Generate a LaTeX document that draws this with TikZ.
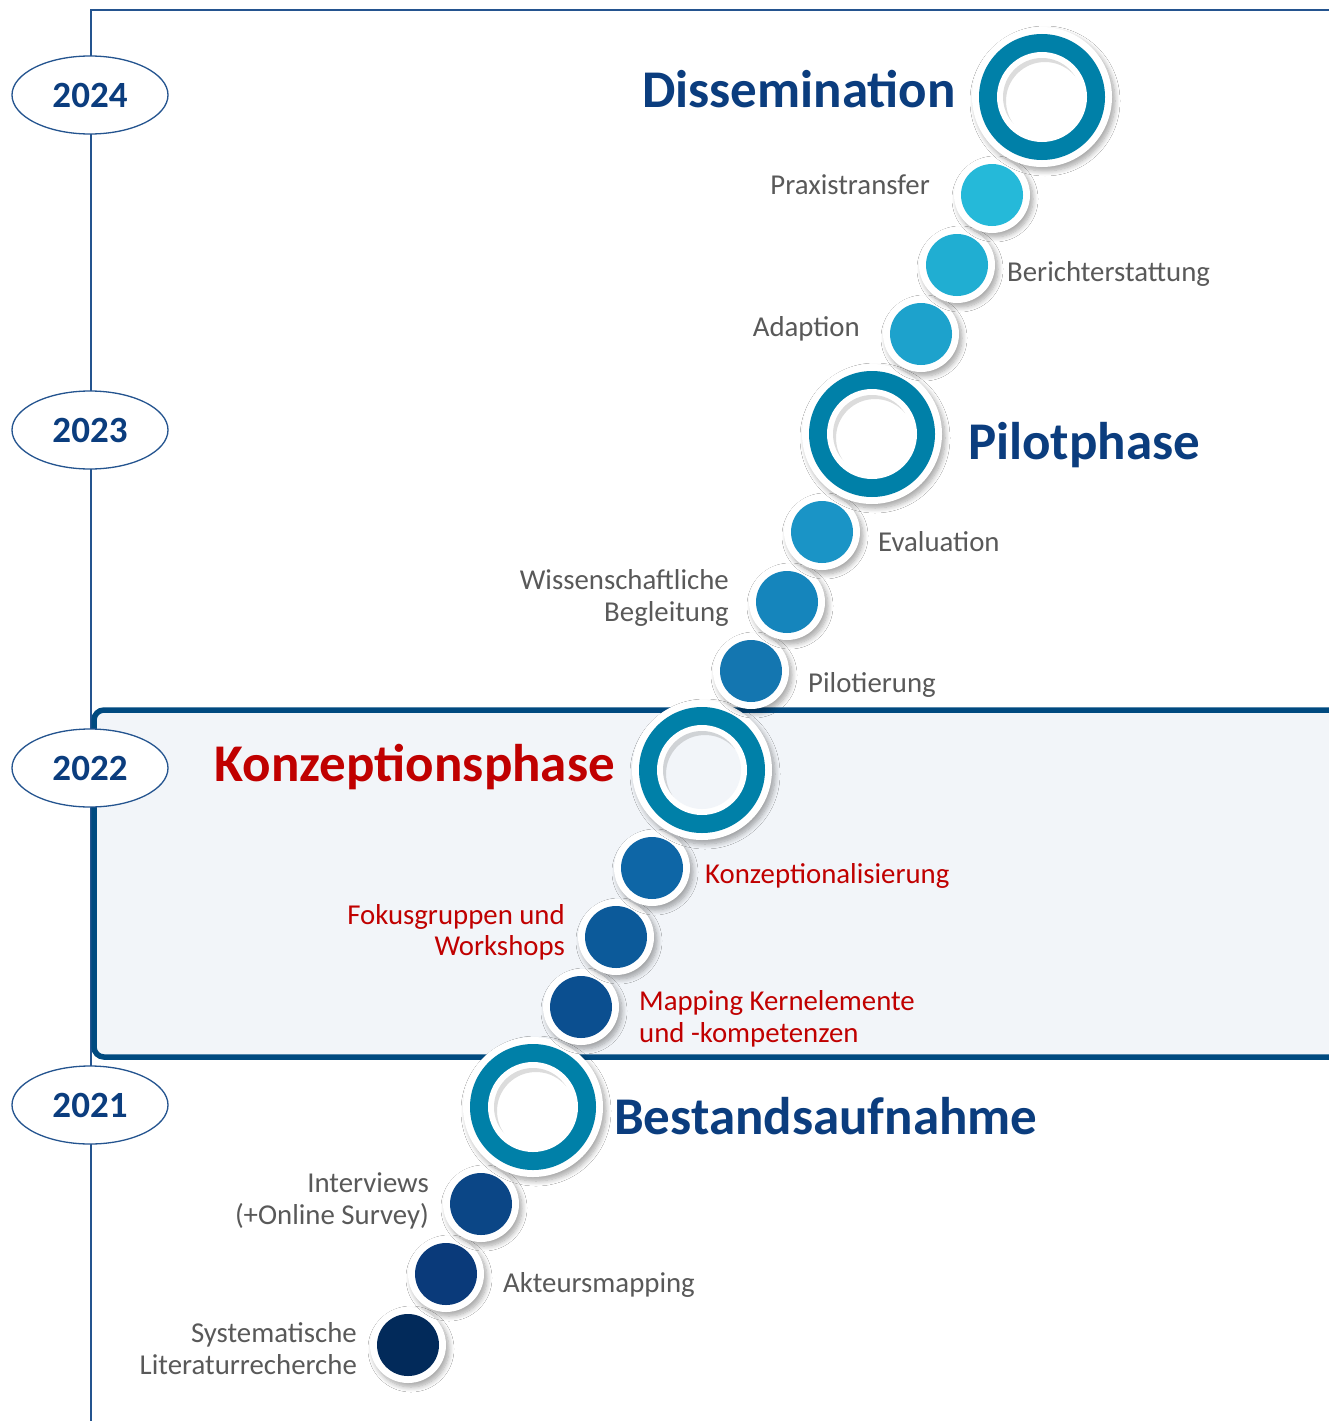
\documentclass[tikz,border=0pt]{standalone}
\usepackage{fontspec}
\setmainfont{Carlito}
\usetikzlibrary{shapes.geometric,shadows.blur}
\definecolor{tlc}{HTML}{24548F}
\definecolor{boxc}{HTML}{004A80}
\definecolor{boxbg}{HTML}{F2F5F9}
\definecolor{ringc}{HTML}{0080A8}
\definecolor{titlec}{HTML}{0B3D7E}
\definecolor{redc}{HTML}{C00000}
\definecolor{grayc}{HTML}{595959}
\definecolor{d1}{HTML}{022A5A}
\definecolor{d2}{HTML}{0A3A7A}
\definecolor{d3}{HTML}{0B4686}
\definecolor{d4}{HTML}{0B4F90}
\definecolor{d5}{HTML}{0C5A9A}
\definecolor{d6}{HTML}{0E66A6}
\definecolor{d7}{HTML}{1476B0}
\definecolor{d8}{HTML}{1585BC}
\definecolor{d9}{HTML}{1A94C6}
\definecolor{d10}{HTML}{1DA2CC}
\definecolor{d11}{HTML}{20AED2}
\definecolor{d12}{HTML}{25B9D9}
\tikzset{
  shad/.style={blur shadow={shadow xshift=3pt,shadow yshift=-4pt,shadow blur radius=5pt,shadow opacity=35,shadow blur steps=8}},
  yearnode/.style={ellipse,draw=tlc,line width=1.3pt,fill=white,minimum width=156pt,minimum height=78pt,inner sep=0pt,
     text=titlec,font=\bfseries\fontsize{37}{40}\selectfont},
  lbl/.style={inner sep=0pt,text=grayc,font=\fontsize{28.8}{32}\selectfont},
  rlbl/.style={inner sep=0pt,text=redc,font=\fontsize{28.8}{32}\selectfont},
  ttl/.style={inner sep=0pt,text=titlec,font=\bfseries\fontsize{53}{60}\selectfont},
}
\newcommand\mydot[3]{%
  \node[circle,fill=white,minimum size=76pt,inner sep=0pt,shad] (#1) at (#2) {};
  \fill[#3] (#1.center) circle[radius=31pt];
}
\newcommand\myring[3]{%
  \node[circle,fill=white,minimum size=140pt,inner sep=0pt,shad] (#1) at (#2) {};
  \fill[ringc] (#1.center) circle[radius=63pt];
  \fill[white] (#1.center) circle[radius=45pt];
  \fill[#3] (#1.center) circle[radius=39pt];
  \begin{scope}
    \clip (#1.center) circle[radius=39pt];
    \draw[black,opacity=0.04,line width=14pt] ([shift={(3pt,-4pt)}]#1.center) circle[radius=46pt];
    \draw[black,opacity=0.05,line width=10pt] ([shift={(3pt,-4pt)}]#1.center) circle[radius=44pt];
    \draw[black,opacity=0.05,line width=6pt] ([shift={(3pt,-4pt)}]#1.center) circle[radius=42pt];
  \end{scope}
}
\begin{document}
\begin{tikzpicture}[x=1pt,y=-1pt]
\useasboundingbox (0,0) rectangle (1329,1421);
\fill[white] (0,0) rectangle (1329,1421);
% timeline
\coordinate (tlb) at (91,1430);
\coordinate (tlc) at (91,10);
\coordinate (tlr) at (1340,10);
\draw[tlc,line width=2pt] (tlb) -- (tlc) -- (tlr);
% highlight box
\draw[boxc,fill=boxbg,line width=5.5pt,rounded corners=10pt] (94,710) rectangle (1345,1057);
% years
\node[yearnode] (y2024) at (90,95) {2024};
\node[yearnode] (y2023) at (90,430) {2023};
\node[yearnode] (y2022) at (90,768) {2022};
\node[yearnode] (y2021) at (90,1105) {2021};
% circles
\mydot{c1}{408,1345}{d1}
\mydot{c2}{446,1274}{d2}
\mydot{c3}{481,1204}{d3}
\myring{r1}{533,1107}{white}
\mydot{c4}{581,1007}{d4}
\mydot{c5}{616,937}{d5}
\mydot{c6}{652,868}{d6}
\myring{r2}{702,770}{boxbg}
\mydot{c7}{751,671}{d7}
\mydot{c8}{787,602}{d8}
\mydot{c9}{822,532}{d9}
\myring{r3}{872,434}{white}
\mydot{c10}{921,334}{d10}
\mydot{c11}{957,265}{d11}
\mydot{c12}{992,195}{d12}
\myring{r4}{1042,97}{white}
% titles
\node[ttl,anchor=base east] (tdis) at (956,107) {Dissemination};
\node[ttl,anchor=base west] (tpil) at (968,459) {Pilotphase};
\node[ttl,anchor=base east,text=redc] (tkon) at (615,781) {Konzeptionsphase};
\node[ttl,anchor=base west] (tbes) at (614,1134) {Bestandsaufnahme};
% labels
\node[lbl,anchor=base east] (l12) at (930,194) {Praxistransfer};
\node[lbl,anchor=base west] (l11) at (1007,281) {Berichterstattung};
\node[lbl,anchor=base east] (l10) at (860,336) {Adaption};
\node[lbl,anchor=base west] (l9) at (878,551) {Evaluation};
\node[lbl,anchor=base east] (l8a) at (729,589) {Wissenschaftliche};
\node[lbl,anchor=base east] (l8b) at (729,621) {Begleitung};
\node[lbl,anchor=base west] (l7) at (808,692) {Pilotierung};
\node[rlbl,anchor=base west] (l6) at (705,883) {Konzeptionalisierung};
\node[rlbl,anchor=base east] (l5a) at (565,924) {Fokusgruppen und};
\node[rlbl,anchor=base east] (l5b) at (565,955) {Workshops};
\node[rlbl,anchor=base west] (l4a) at (639,1010) {Mapping Kernelemente};
\node[rlbl,anchor=base west] (l4b) at (639,1042) {und -kompetenzen};
\node[lbl,anchor=base east] (l3a) at (429,1192) {Interviews};
\node[lbl,anchor=base east] (l3b) at (429,1224) {(+Online Survey)};
\node[lbl,anchor=base west] (l2) at (503,1292) {Akteursmapping};
\node[lbl,anchor=base east] (l1a) at (357,1342) {Systematische};
\node[lbl,anchor=base east] (l1b) at (357,1374) {Literaturrecherche};
\end{tikzpicture}
\end{document}
